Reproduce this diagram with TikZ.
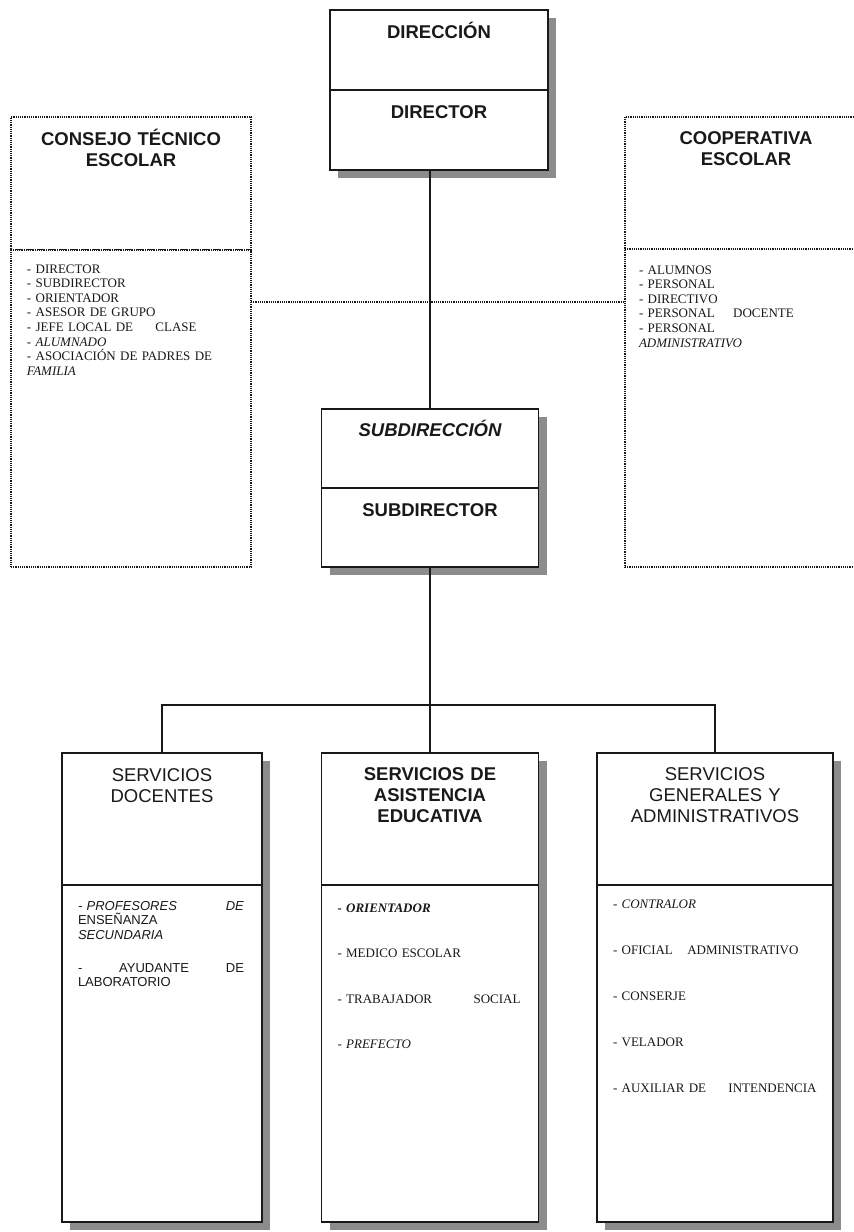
\documentclass[tikz,border=0pt]{standalone}
\usepackage{fontspec}
\setmainfont{Liberation Serif}
\setsansfont{Liberation Sans}
\usetikzlibrary{positioning,shadows}

\begin{document}
\begin{tikzpicture}[x=1pt, y=-1pt, line width=1.8pt, color=black!90,
    every node/.append style={inner sep=0pt, outer sep=0pt},
    box/.style={draw, fill=white,
      drop shadow={shadow xshift=8pt, shadow yshift=-8pt, fill=black!45, opacity=1}},
    dotbox/.style={draw, fill=white, line width=1.6pt, dash pattern=on 1.2pt off 1pt},
    dotline/.style={line width=1.6pt, dash pattern=on 1.2pt off 1pt},
    head/.style={anchor=base, align=center, text width=210pt,
      font=\sffamily\fontsize{18.5}{21}\selectfont},
    lst/.style={anchor=base west, align=left,
      font=\rmfamily\fontsize{13}{14.6}\selectfont},
    lstsans/.style={lst, font=\sffamily\fontsize{13}{14.5}\selectfont}]
  \useasboundingbox (0,0) rectangle (854,1232);
  \clip (0,0) rectangle (854,1232);

  % side councils (dotted)
  \node[dotbox, minimum width=240pt, minimum height=133pt, anchor=north] (consejo) at (131,117) {};
  \node[dotbox, minimum width=240pt, minimum height=317pt, below=0pt of consejo] (ctelista) {};
  \node[dotbox, minimum width=242pt, minimum height=132pt, anchor=north] (cooperativa) at (746,117) {};
  \node[dotbox, minimum width=242pt, minimum height=318pt, below=0pt of cooperativa] (coolista) {};
  \draw[dotline] ([yshift=-52pt]ctelista.north east) coordinate (enlace) -- (enlace -| coolista.west);

  % direction and subdirection
  \node[box, minimum width=218pt, minimum height=80pt, anchor=north] (direccion) at (439,10) {};
  \node[box, minimum width=218pt, minimum height=80pt, below=0pt of direccion] (director) {};
  \node[box, minimum width=217pt, minimum height=79pt, anchor=north] (subdireccion) at (430,409) {};
  \node[box, minimum width=217pt, minimum height=79pt, below=0pt of subdireccion] (subdirector) {};

  % services
  \node[box, minimum width=200pt, minimum height=132pt, anchor=north] (docentes) at (162,753) {};
  \node[box, minimum width=200pt, minimum height=337pt, below=0pt of docentes] (doclista) {};
  \node[box, minimum width=217pt, minimum height=132pt, anchor=north] (asistencia) at (430,753) {};
  \node[box, minimum width=217pt, minimum height=337pt, below=0pt of asistencia] (asilista) {};
  \node[box, minimum width=236pt, minimum height=132pt, anchor=north] (generales) at (715,753) {};
  \node[box, minimum width=236pt, minimum height=337pt, below=0pt of generales] (genlista) {};

  % connectors
  \coordinate (ramal) at (0,705);
  \draw (director.south -| subdireccion.north) -- (subdireccion.north);
  \draw (subdirector.south) -- (subdirector.south |- ramal);
  \draw (docentes.north) -- (docentes.north |- ramal) -- (generales.north |- ramal) -- (generales.north);
  \draw (asistencia.north) -- (asistencia.north |- ramal);

  % headings
  \node[head] (t-direccion) at ([yshift=-28pt]direccion.north) {\bfseries DIRECCIÓN};
  \node[head] (t-director) at ([yshift=-28pt]director.north) {\bfseries DIRECTOR};
  \node[head] (t-consejo) at ([yshift=-28pt]consejo.north) {\bfseries CONSEJO TÉCNICO\\ ESCOLAR};
  \node[head] (t-cooperativa) at ([yshift=-27pt]cooperativa.north) {\bfseries COOPERATIVA\\ ESCOLAR};
  \node[head] (t-subdireccion) at ([yshift=-27pt]subdireccion.north) {\bfseries\itshape SUBDIRECCIÓN};
  \node[head] (t-subdirector) at ([yshift=-28pt]subdirector.north) {\bfseries SUBDIRECTOR};
  \node[head] (t-docentes) at ([yshift=-28pt]docentes.north) {SERVICIOS\\ DOCENTES};
  \node[head] (t-asistencia) at ([yshift=-27pt]asistencia.north) {\bfseries SERVICIOS DE\\ ASISTENCIA\\ EDUCATIVA};
  \node[head] (t-generales) at ([yshift=-27pt]generales.north) {SERVICIOS\\ GENERALES Y\\ ADMINISTRATIVOS};

  % member lists
  \node[lst, text width=210pt] (m-consejo) at ([xshift=16pt, yshift=-23pt]ctelista.north west)
    {- DIRECTOR\\ - SUBDIRECTOR\\ - ORIENTADOR\\ - ASESOR DE GRUPO\\
     - JEFE LOCAL DE\hspace{18pt} CLASE\\ \textit{- ALUMNADO}\\
     - ASOCIACIÓN DE PADRES DE\\ \textit{FAMILIA}};
  \node[lst, text width=210pt] (m-cooperativa) at ([xshift=14pt, yshift=-25pt]coolista.north west)
    {- ALUMNOS\\ - PERSONAL\\ - DIRECTIVO\\ - PERSONAL\hspace{14pt} DOCENTE\\
     - PERSONAL\\ \textit{ADMINISTRATIVO}};
  \node[lstsans, text width=166pt] (m-docentes) at ([xshift=16pt, yshift=-25pt]doclista.north west)
    {\textit{- PROFESORES}\hfill\textit{DE}\\ ENSEÑANZA\\ \textit{SECUNDARIA}\\[18.5pt]
     -\hfill AYUDANTE\hfill DE\\ LABORATORIO};
  \node[lst, text width=183pt] (m-asistencia) at ([xshift=16pt, yshift=-27pt]asilista.north west)
    {\textbf{\textit{- ORIENTADOR}}\\[31pt] - MEDICO ESCOLAR\\[31pt]
     - TRABAJADOR\hfill SOCIAL\\[31pt] - \textit{PREFECTO}};
  \node[lst, text width=220pt] (m-generales) at ([xshift=16pt, yshift=-23pt]genlista.north west)
    {\textit{- CONTRALOR}\\[31.4pt] - OFICIAL\hspace{10pt} ADMINISTRATIVO\\[31.4pt]
     - CONSERJE\\[31.4pt] - VELADOR\\[31.4pt] - AUXILIAR DE\hspace{18pt} INTENDENCIA};
\end{tikzpicture}
\end{document}
